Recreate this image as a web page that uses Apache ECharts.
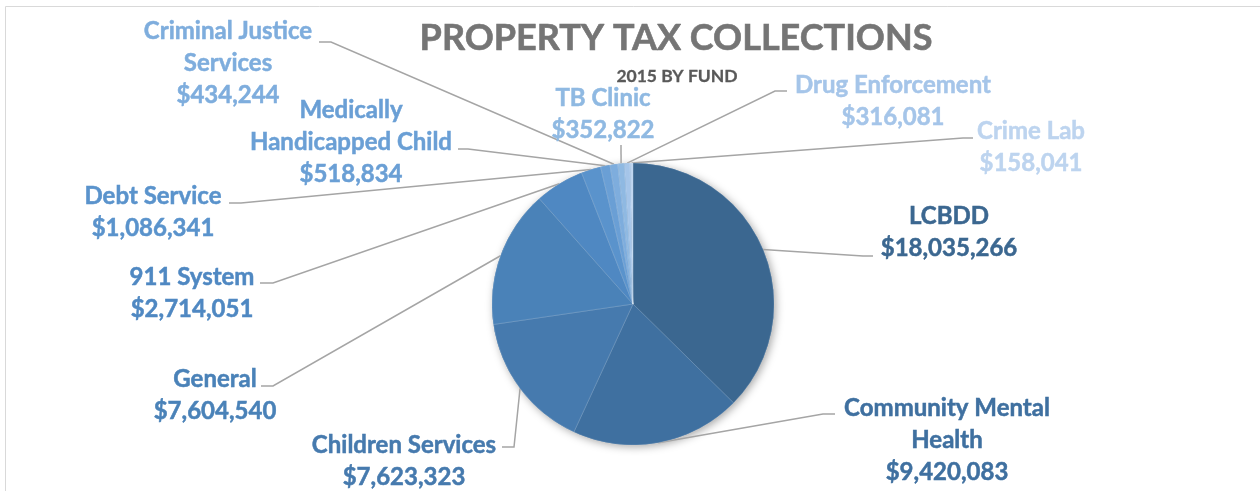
<!DOCTYPE html>
<html>
<head>
<meta charset="utf-8">
<script src="https://cdn.jsdelivr.net/npm/echarts@6/dist/echarts.min.js"></script>
<style>
  html, body { margin: 0; padding: 0; background: #fff; }
  #chart { width: 1260px; height: 491px; }
</style>
</head>
<body>
<div id="chart"></div>
<script>
// data
const funds = ['LCBDD', 'Community Mental Health', 'Children Services', 'General', '911 System',
  'Debt Service', 'Medically Handicapped Child', 'Criminal Justice Services', 'TB Clinic',
  'Drug Enforcement', 'Crime Lab'];
const amounts = [18035266, 9420083, 7623323, 7604540, 2714051, 1086341, 518834, 434244, 352822, 316081, 158041];

// how the labels wrap
const wrapped = {
  'Community Mental Health': 'Community Mental\nHealth',
  'Medically Handicapped Child': 'Medically\nHandicapped Child',
  'Criminal Justice Services': 'Criminal Justice\nServices'
};

const colors = ['#3b6790', '#3f70a0', '#467aae', '#4a82b8', '#4f88c2', '#5a93cc',
  '#6a9fd5', '#7eaddd', '#8fb9e2', '#a5c5e9', '#bdd4ef'];

// label placement: [centerX, centerY, lineEndX, lineEndY, kneeX]
const labelSpots = [
  [949, 232, 873, 256, 863],
  [947, 440, 835, 414, 823],
  [404, 461, 502, 447, 514],
  [215, 395, 261, 386, 273],
  [192, 293, 260, 283, 273],
  [153, 212, 229, 203, 241],
  [351, 142, 458, 149, 468],
  [228, 63, 319, 42, 331],
  [603, 114, 621, 145, 621],
  [893, 101, 787, 91, 775],
  [1031, 147, 973, 138, 963]
];

const fontFamily = 'Lato, "Open Sans", sans-serif';
const money = v => '$' + v.toLocaleString('en-US');

const chart = echarts.init(document.getElementById('chart'), null, { renderer: 'canvas' });

chart.setOption({
  animation: false,
  graphic: [
    {
      type: 'rect',
      shape: { x: 5.5, y: 6.5, width: 1400, height: 700 },
      style: { fill: 'none', stroke: '#d9d9d9', lineWidth: 1 },
      silent: true
    },
    {
      type: 'text',
      x: 676, y: 38,
      style: {
        text: 'PROPERTY TAX COLLECTIONS', align: 'center', verticalAlign: 'middle',
        fontFamily, fontWeight: 'bold', fontSize: 36, fill: '#757575',
        stroke: '#757575', lineWidth: 0.6
      }
    },
    {
      type: 'text',
      x: 677, y: 76,
      style: {
        text: '2015 BY FUND', align: 'center', verticalAlign: 'middle',
        fontFamily, fontWeight: 'bold', fontSize: 17.5, fill: '#595959',
        stroke: '#595959', lineWidth: 0.3
      }
    }
  ],
  series: [
    {
      // soft shadow under the pie
      type: 'pie',
      silent: true,
      center: [633, 304],
      radius: 141,
      z: 1,
      label: { show: false },
      itemStyle: { color: '#3f70a0', shadowBlur: 9, shadowColor: 'rgba(0,0,0,0.35)', shadowOffsetX: 2, shadowOffsetY: 2 },
      data: [{ value: 1, name: '' }]
    },
    {
      type: 'pie',
      center: [633, 304],
      radius: 141,
      z: 2,
      startAngle: 90,
      clockwise: true,
      avoidLabelOverlap: false,
      itemStyle: { borderColor: 'rgba(255,255,255,0.25)', borderWidth: 0.6 },
      label: {
        show: true,
        position: 'outside',
        fontFamily,
        fontWeight: 'bold',
        fontSize: 24,
        lineHeight: 32,
        align: 'center',
        formatter: p => (wrapped[p.name] || p.name) + '\n' + money(p.value)
      },
      labelLine: { show: true, length: 10, length2: 10, lineStyle: { color: '#a5a5a5', width: 1.5 } },
      labelLayout: params => {
        const s = labelSpots[params.dataIndex];
        const p0 = params.labelLinePoints[0];
        return {
          x: s[0], y: s[1], align: 'center', verticalAlign: 'middle',
          labelLinePoints: [p0, [s[4], s[3]], [s[2], s[3]]]
        };
      },
      data: funds.map((name, i) => ({
        name,
        value: amounts[i],
        itemStyle: { color: colors[i] },
        label: { color: colors[i], textBorderColor: colors[i], textBorderWidth: 0.5 }
      }))
    }
  ]
});
</script>
</body>
</html>
